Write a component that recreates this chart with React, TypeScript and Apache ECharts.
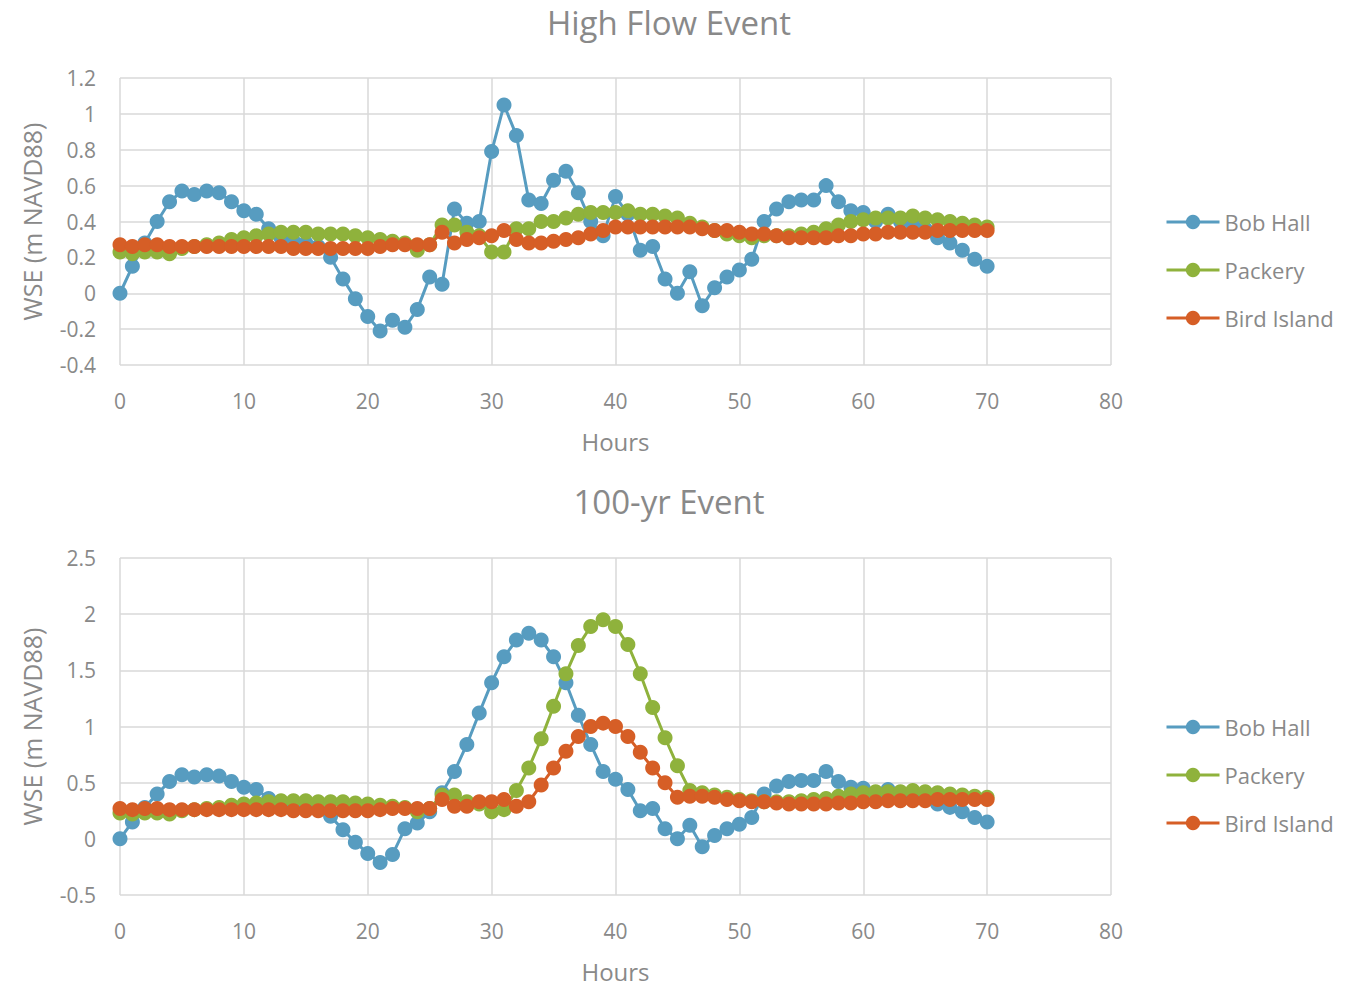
import React, { useEffect, useRef } from "react";
import * as echarts from "echarts";

const hours = [
  0, 1, 2, 3, 4, 5, 6, 7, 8, 9, 10, 11, 12, 13, 14, 15, 16, 17, 18, 19,
  20, 21, 22, 23, 24, 25, 26, 27, 28, 29, 30, 31, 32, 33, 34, 35, 36, 37, 38, 39,
  40, 41, 42, 43, 44, 45, 46, 47, 48, 49, 50, 51, 52, 53, 54, 55, 56, 57, 58, 59,
  60, 61, 62, 63, 64, 65, 66, 67, 68, 69, 70,
];

const xTicks = [0, 10, 20, 30, 40, 50, 60, 70, 80];
const seriesNames = ["Bob Hall", "Packery", "Bird Island"];
const seriesColors = ["#579CC0", "#8FB23C", "#D65E26"];

// High Flow Event
const highBobHall = [
  0.0, 0.15, 0.28, 0.4, 0.51, 0.57, 0.55, 0.57, 0.56, 0.51, 0.46, 0.44, 0.36, 0.31, 0.29, 0.28, 0.26, 0.2, 0.08, -0.03,
  -0.13, -0.21, -0.15, -0.19, -0.09, 0.09, 0.05, 0.47, 0.39, 0.4, 0.79, 1.05, 0.88, 0.52, 0.5, 0.63, 0.68, 0.56, 0.4, 0.32,
  0.54, 0.44, 0.24, 0.26, 0.08, 0.0, 0.12, -0.07, 0.03, 0.09, 0.13, 0.19, 0.4, 0.47, 0.51, 0.52, 0.52, 0.6, 0.51, 0.46,
  0.45, 0.4, 0.44, 0.4, 0.38, 0.36, 0.31, 0.28, 0.24, 0.19, 0.15,
];
const highPackery = [
  0.23, 0.22, 0.23, 0.23, 0.22, 0.25, 0.26, 0.27, 0.28, 0.3, 0.31, 0.32, 0.33, 0.34, 0.34, 0.34, 0.33, 0.33, 0.33, 0.32,
  0.31, 0.3, 0.29, 0.28, 0.24, 0.27, 0.38, 0.38, 0.34, 0.32, 0.23, 0.23, 0.36, 0.36, 0.4, 0.4, 0.42, 0.44, 0.45, 0.45,
  0.45, 0.46, 0.44, 0.44, 0.43, 0.42, 0.39, 0.37, 0.35, 0.33, 0.32, 0.31, 0.32, 0.32, 0.32, 0.33, 0.34, 0.36, 0.38, 0.4,
  0.41, 0.42, 0.42, 0.42, 0.43, 0.42, 0.41, 0.4, 0.39, 0.38, 0.37,
];
const highBirdIsland = [
  0.27, 0.26, 0.27, 0.27, 0.26, 0.26, 0.26, 0.26, 0.26, 0.26, 0.26, 0.26, 0.26, 0.26, 0.25, 0.25, 0.25, 0.25, 0.25, 0.25,
  0.25, 0.26, 0.27, 0.27, 0.27, 0.27, 0.34, 0.28, 0.3, 0.31, 0.32, 0.35, 0.3, 0.28, 0.28, 0.29, 0.3, 0.31, 0.33, 0.35,
  0.37, 0.37, 0.37, 0.37, 0.37, 0.37, 0.37, 0.36, 0.35, 0.35, 0.34, 0.33, 0.33, 0.32, 0.31, 0.31, 0.31, 0.31, 0.32, 0.32,
  0.33, 0.33, 0.34, 0.34, 0.34, 0.34, 0.35, 0.35, 0.35, 0.35, 0.35,
];

// 100-yr Event
const yr100BobHall = [
  0.0, 0.15, 0.28, 0.4, 0.51, 0.57, 0.55, 0.57, 0.56, 0.51, 0.46, 0.44, 0.36, 0.31, 0.29, 0.28, 0.26, 0.2, 0.08, -0.03,
  -0.13, -0.21, -0.14, 0.09, 0.14, 0.24, 0.41, 0.6, 0.84, 1.12, 1.39, 1.62, 1.77, 1.83, 1.77, 1.62, 1.39, 1.1, 0.84, 0.6,
  0.53, 0.44, 0.25, 0.27, 0.09, 0.0, 0.12, -0.07, 0.03, 0.09, 0.13, 0.19, 0.4, 0.47, 0.51, 0.52, 0.52, 0.6, 0.51, 0.46,
  0.45, 0.4, 0.44, 0.4, 0.38, 0.36, 0.31, 0.28, 0.24, 0.19, 0.15,
];
const yr100Packery = [
  0.23, 0.22, 0.23, 0.23, 0.22, 0.25, 0.26, 0.27, 0.28, 0.3, 0.31, 0.32, 0.33, 0.34, 0.34, 0.34, 0.33, 0.33, 0.33, 0.32,
  0.31, 0.3, 0.29, 0.28, 0.24, 0.27, 0.39, 0.39, 0.33, 0.31, 0.24, 0.26, 0.43, 0.63, 0.89, 1.18, 1.47, 1.72, 1.89, 1.95,
  1.89, 1.73, 1.47, 1.17, 0.9, 0.65, 0.43, 0.41, 0.39, 0.37, 0.35, 0.34, 0.33, 0.33, 0.33, 0.34, 0.35, 0.36, 0.38, 0.4,
  0.41, 0.42, 0.42, 0.42, 0.43, 0.42, 0.41, 0.4, 0.39, 0.38, 0.37,
];
const yr100BirdIsland = [
  0.27, 0.26, 0.27, 0.27, 0.26, 0.26, 0.26, 0.26, 0.26, 0.26, 0.26, 0.26, 0.26, 0.26, 0.25, 0.25, 0.25, 0.25, 0.25, 0.25,
  0.25, 0.26, 0.27, 0.27, 0.27, 0.27, 0.35, 0.29, 0.29, 0.33, 0.33, 0.35, 0.29, 0.33, 0.48, 0.63, 0.78, 0.91, 1.0, 1.03,
  1.0, 0.91, 0.77, 0.63, 0.5, 0.37, 0.38, 0.38, 0.37, 0.35, 0.34, 0.33, 0.33, 0.32, 0.31, 0.31, 0.31, 0.31, 0.32, 0.32,
  0.33, 0.33, 0.34, 0.34, 0.34, 0.34, 0.35, 0.35, 0.35, 0.35, 0.35,
];

const FONT = "'Open Sans', 'Noto Sans', sans-serif";
const TEXT = "#898989";
const GRID = "#d9d9d9";

export default function App() {
  const ref = useRef<HTMLDivElement>(null);

  useEffect(() => {
    if (!ref.current) return;
    const chart = echarts.init(ref.current, null, { renderer: "svg" });

    const panels = [
      { title: "High Flow Event", data: [highBobHall, highPackery, highBirdIsland], min: -0.4, max: 1.2, interval: 0.2, top: 78, height: 287, titleTop: 2, legendTop: 205 },
      { title: "100-yr Event", data: [yr100BobHall, yr100Packery, yr100BirdIsland], min: -0.5, max: 2.5, interval: 0.5, top: 558, height: 337, titleTop: 481, legendTop: 710 },
    ];

    const fmt = (v: number) => String(Math.round(v * 10) / 10);

    const option: any = {
      animation: false,
      backgroundColor: "#ffffff",
      textStyle: { fontFamily: FONT },
      title: panels.map((p) => ({
        text: p.title,
        left: 669,
        textAlign: "center",
        top: p.titleTop,
        padding: 0,
        textStyle: { fontFamily: FONT, fontSize: 33, fontWeight: "normal", color: TEXT, lineHeight: 40 },
      })),
      legend: panels.map((p) => ({
        data: seriesNames,
        orient: "vertical",
        left: 1160,
        top: p.legendTop,
        itemWidth: 53,
        itemHeight: 18,
        itemGap: 24,
        lineStyle: { width: 3 },
        textStyle: { fontFamily: FONT, fontSize: 22, color: TEXT, lineHeight: 24, padding: [0, 0, 0, 0] },
      })),
      grid: panels.map((p) => ({ left: 120, width: 991, top: p.top, height: p.height, containLabel: false })),
      xAxis: panels.map((p, i) => ({
        type: "value",
        gridIndex: i,
        min: xTicks[0],
        max: xTicks[xTicks.length - 1],
        interval: 10,
        name: "Hours",
        nameLocation: "middle",
        nameGap: 64,
        nameTextStyle: { fontFamily: FONT, fontSize: 24, color: TEXT },
        axisLine: { show: false },
        axisTick: { show: false },
        axisLabel: { fontFamily: FONT, fontSize: 21, color: TEXT, margin: 25 },
        splitLine: { show: true, lineStyle: { color: GRID, width: 1.5 } },
      })),
      yAxis: panels.map((p, i) => ({
        type: "value",
        gridIndex: i,
        min: p.min,
        max: p.max,
        interval: p.interval,
        name: "WSE (m NAVD88)",
        nameLocation: "middle",
        nameGap: 76,
        nameTextStyle: { fontFamily: FONT, fontSize: 25, color: TEXT },
        axisLine: { show: false },
        axisTick: { show: false },
        axisLabel: { fontFamily: FONT, fontSize: 21, color: TEXT, margin: 24, formatter: fmt },
        splitLine: { show: true, lineStyle: { color: GRID, width: 1.5 } },
      })),
      series: panels.flatMap((p, pi) =>
        seriesNames.map((name, si) => ({
          name,
          type: "line",
          xAxisIndex: pi,
          yAxisIndex: pi,
          data: hours.map((h, k) => [h, p.data[si][k]]),
          symbol: "circle",
          symbolSize: 15,
          color: seriesColors[si],
          lineStyle: { width: 3, color: seriesColors[si] },
          itemStyle: { color: seriesColors[si] },
          emphasis: { disabled: true },
        }))
      ),
    };

    chart.setOption(option);
    return () => chart.dispose();
  }, []);

  return (
    <div
      ref={ref}
      style={{ position: "absolute", left: 0, top: 0, width: 1357, height: 986, background: "#fff" }}
    />
  );
}
